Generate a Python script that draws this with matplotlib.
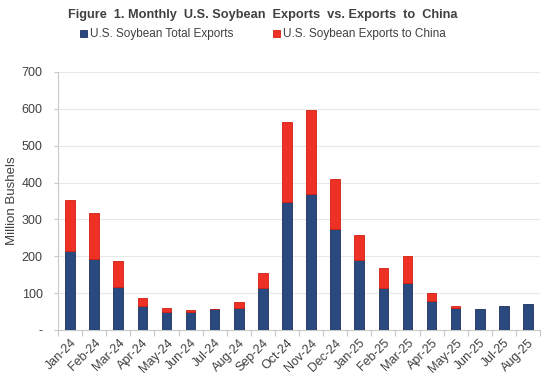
import matplotlib.pyplot as plt
import numpy as np

plt.rcParams['font.family'] = ['Liberation Sans', 'DejaVu Sans']

months = ["Jan-24", "Feb-24", "Mar-24", "Apr-24", "May-24", "Jun-24", "Jul-24",
          "Aug-24", "Sep-24", "Oct-24", "Nov-24", "Dec-24", "Jan-25", "Feb-25",
          "Mar-25", "Apr-25", "May-25", "Jun-25", "Jul-25", "Aug-25"]
# blue part of each bar (million bushels)
total_exports = [214, 192, 116, 65, 50, 50, 56, 61, 114, 346, 369, 274, 191, 113,
                 128, 80, 59, 57, 65, 70]
# red part stacked on top
china_exports = [138, 126, 72, 23, 10, 3, 2, 14, 41, 219, 227, 135, 68, 55,
                 72, 21, 6, 0, 0, 0]
yticks = [0, 100, 200, 300, 400, 500, 600, 700]
ytick_labels = ["-", "100", "200", "300", "400", "500", "600", "700"]

blue = "#2A4A7F"
red = "#EE3124"
text_c = "#404040"


def main():
    fig = plt.figure(figsize=(5.5, 3.75), dpi=100)
    ax = fig.add_axes([58 / 550, 1 - 330 / 375, 482 / 550, 258 / 375])

    x = np.arange(len(months))
    ax.bar(x, total_exports, width=0.4, color=blue, edgecolor="#1B2F5A", lw=0.6,
           label="U.S. Soybean Total Exports", zorder=3)
    # no outline on empty red segments
    red_lw = [0.6 if v > 0 else 0 for v in china_exports]
    ax.bar(x, china_exports, width=0.4, bottom=total_exports, color=red,
           edgecolor="#D01F14", lw=red_lw, label="U.S. Soybean Exports to China", zorder=3)

    ax.set_xlim(-0.5, len(months) - 0.5)
    ax.set_ylim(0, 700)
    ax.set_yticks(yticks)
    ax.set_yticklabels(ytick_labels, fontsize=9, color=text_c)
    ax.yaxis.grid(True, color="#E8E8E8", lw=0.8, zorder=0)
    ax.tick_params(axis="y", length=3, color="#C8C8C8", width=0.8, pad=8)

    # Excel-style ticks between categories
    ax.set_xticks(x)
    ax.set_xticklabels(months, rotation=45, ha="right", rotation_mode="anchor",
                       fontsize=9, color=text_c)
    ax.tick_params(axis="x", length=0, pad=5)
    ax.set_xticks(np.arange(len(months) + 1) - 0.5, minor=True)
    ax.tick_params(axis="x", which="minor", length=4, color="#C8C8C8", width=0.8)

    for s in ["top", "right"]:
        ax.spines[s].set_visible(False)
    ax.spines["left"].set_color("#C8C8C8")
    ax.spines["bottom"].set_color("#C8C8C8")

    ax.set_ylabel("Million Bushels", fontsize=9.5, color=text_c)
    ax.yaxis.set_label_coords(-40 / 482, 0.5)

    fig.text(0.478, 0.96, "Figure  1. Monthly  U.S. Soybean  Exports  vs. Exports  to  China",
             ha="center", va="center", fontsize=9.2, fontweight="bold", color=text_c)
    fig.legend(loc="center", bbox_to_anchor=(0.478, 0.908), ncol=2, frameon=False,
               fontsize=8.5, handlelength=0.6, handleheight=0.6, handletextpad=0.2,
               columnspacing=3.4, labelcolor=text_c)

    fig.savefig("out.png", dpi=100)


if __name__ == "__main__":
    main()
